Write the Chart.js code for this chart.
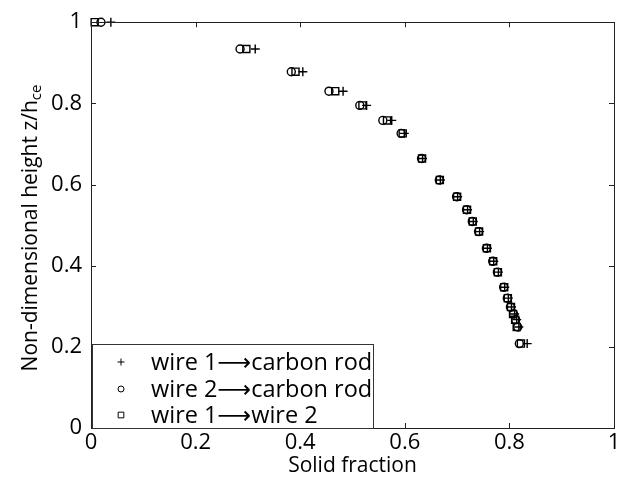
<!DOCTYPE html>
<html>
<head>
<meta charset="utf-8">
<script src="https://cdn.jsdelivr.net/npm/chart.js@4.4.1/dist/chart.umd.min.js"></script>
<style>
html,body{margin:0;padding:0;background:#fff;}
canvas{display:block;}
</style>
</head>
<body>
<canvas id="c" width="633" height="488"></canvas>
<script>
// Data
const heights = [1.000, 0.934, 0.878, 0.830, 0.795, 0.758, 0.726, 0.664, 0.611, 0.570, 0.538, 0.509, 0.484, 0.443, 0.411, 0.384, 0.347, 0.320, 0.298, 0.281, 0.267, 0.249, 0.208];
const wire1Carbon = [0.038, 0.314, 0.405, 0.482, 0.527, 0.575, 0.599, 0.634, 0.668, 0.701, 0.720, 0.731, 0.743, 0.758, 0.770, 0.779, 0.791, 0.798, 0.804, 0.810, 0.814, 0.818, 0.834];
const wire2Carbon = [0.019, 0.285, 0.383, 0.455, 0.514, 0.558, 0.593, 0.632, 0.666, 0.699, 0.718, 0.729, 0.741, 0.756, 0.768, 0.777, 0.789, 0.796, 0.802, 0.808, 0.812, 0.816, 0.819];
const wire1Wire2 = [0.007, 0.297, 0.391, 0.467, 0.519, 0.566, 0.596, 0.633, 0.667, 0.700, 0.719, 0.730, 0.742, 0.757, 0.769, 0.778, 0.790, 0.797, 0.803, 0.807, 0.811, 0.814, 0.822];
const seriesNames = ['wire 1\u27F6carbon rod', 'wire 2\u27F6carbon rod', 'wire 1\u27F6wire 2'];
const tickValues = [0, 0.2, 0.4, 0.6, 0.8, 1];

const FONT = '"Open Sans", "Noto Sans", "DejaVu Sans", sans-serif';

function pts(xs) { return xs.map((x, i) => ({x: x, y: heights[i]})); }

const styles = ['cross', 'circle', 'rect'];
const radii = [4.5, 4, 5];

const datasets = [wire1Carbon, wire2Carbon, wire1Wire2].map((xs, i) => ({
  label: seriesNames[i],
  data: pts(xs),
  pointStyle: styles[i],
  pointRadius: radii[i],
  pointHoverRadius: radii[i],
  borderColor: '#000',
  backgroundColor: 'rgba(0,0,0,0)',
  borderWidth: 1.4,
  showLine: false,
  clip: false
}));

const framePlugin = {
  id: 'frame',
  afterDraw(chart) {
    const ctx = chart.ctx;
    const a = chart.chartArea;
    const xs = chart.scales.x, ys = chart.scales.y;
    ctx.save();
    ctx.strokeStyle = '#222';
    ctx.lineWidth = 1;
    ctx.strokeRect(Math.round(a.left) + 0.5, Math.round(a.top) + 0.5, Math.round(a.right - a.left), Math.round(a.bottom - a.top));
    const tl = 5;
    ctx.beginPath();
    tickValues.forEach(v => {
      const px = Math.round(xs.getPixelForValue(v)) + 0.5;
      ctx.moveTo(px, a.bottom); ctx.lineTo(px, a.bottom - tl);
      ctx.moveTo(px, a.top); ctx.lineTo(px, a.top + tl);
      const py = Math.round(ys.getPixelForValue(v)) + 0.5;
      ctx.moveTo(a.left, py); ctx.lineTo(a.left + tl, py);
      ctx.moveTo(a.right, py); ctx.lineTo(a.right - tl, py);
    });
    ctx.stroke();

    // legend box
    const lx = a.left + 1, ly = 344, lw = 281, lh = a.bottom - 344;
    ctx.fillStyle = '#fff';
    ctx.fillRect(lx, ly, lw, lh);
    ctx.strokeStyle = '#333';
    ctx.strokeRect(lx + 0.5, ly + 0.5, lw, lh);
    const rows = [362, 389, 415];
    ctx.font = '23.5px ' + FONT;
    ctx.textBaseline = 'middle';
    ctx.textAlign = 'left';
    seriesNames.forEach((name, i) => {
      ctx.strokeStyle = '#000';
      ctx.fillStyle = 'rgba(0,0,0,0)';
      ctx.lineWidth = 1;
      Chart.helpers.drawPoint(ctx, {pointStyle: styles[i], rotation: 0, borderWidth: 1, radius: [3.5, 3, 4][i]}, 121, rows[i]);
      ctx.fillStyle = '#000';
      ctx.fillText(name, 151, rows[i] + 1);
    });

    // y-axis title with subscript
    ctx.save();
    const mainTxt = 'Non-dimensional height z/h';
    const subTxt = 'ce';
    ctx.font = '21px ' + FONT;
    const w1 = ctx.measureText(mainTxt).width;
    ctx.font = '15px ' + FONT;
    const w2 = ctx.measureText(subTxt).width;
    const total = w1 + w2;
    ctx.translate(30, 228);
    ctx.rotate(-Math.PI / 2);
    ctx.textBaseline = 'alphabetic';
    ctx.textAlign = 'left';
    ctx.fillStyle = '#000';
    ctx.font = '21px ' + FONT;
    ctx.fillText(mainTxt, -total / 2, 7);
    ctx.font = '15px ' + FONT;
    ctx.fillText(subTxt, -total / 2 + w1, 11);
    ctx.restore();
    ctx.restore();
  }
};

new Chart(document.getElementById('c'), {
  type: 'scatter',
  data: {datasets: datasets},
  options: {
    responsive: false,
    animation: false,
    devicePixelRatio: 1,
    layout: {padding: {top: 19, right: 19, left: 0, bottom: 0}},
    plugins: {legend: {display: false}, tooltip: {enabled: false}},
    scales: {
      x: {
        type: 'linear', min: 0, max: 1,
        afterFit(s) { s.height = 60; },
        afterBuildTicks(s) { s.ticks = tickValues.map(v => ({value: v})); },
        grid: {display: false, drawTicks: false},
        border: {display: false},
        ticks: {
          padding: 2, color: '#000',
          font: {family: FONT, size: 22},
          callback: v => String(+v.toFixed(1))
        },
        title: {display: true, text: 'Solid fraction', color: '#000', font: {family: FONT, size: 21}, padding: {top: 0, bottom: 9}}
      },
      y: {
        type: 'linear', min: 0, max: 1,
        afterFit(s) { s.width = 91; },
        afterBuildTicks(s) { s.ticks = tickValues.map(v => ({value: v})); },
        grid: {display: false, drawTicks: false},
        border: {display: false},
        ticks: {
          padding: 9, color: '#000',
          font: {family: FONT, size: 22},
          callback: v => String(+v.toFixed(1))
        }
      }
    }
  },
  plugins: [framePlugin]
});
</script>
</body>
</html>
